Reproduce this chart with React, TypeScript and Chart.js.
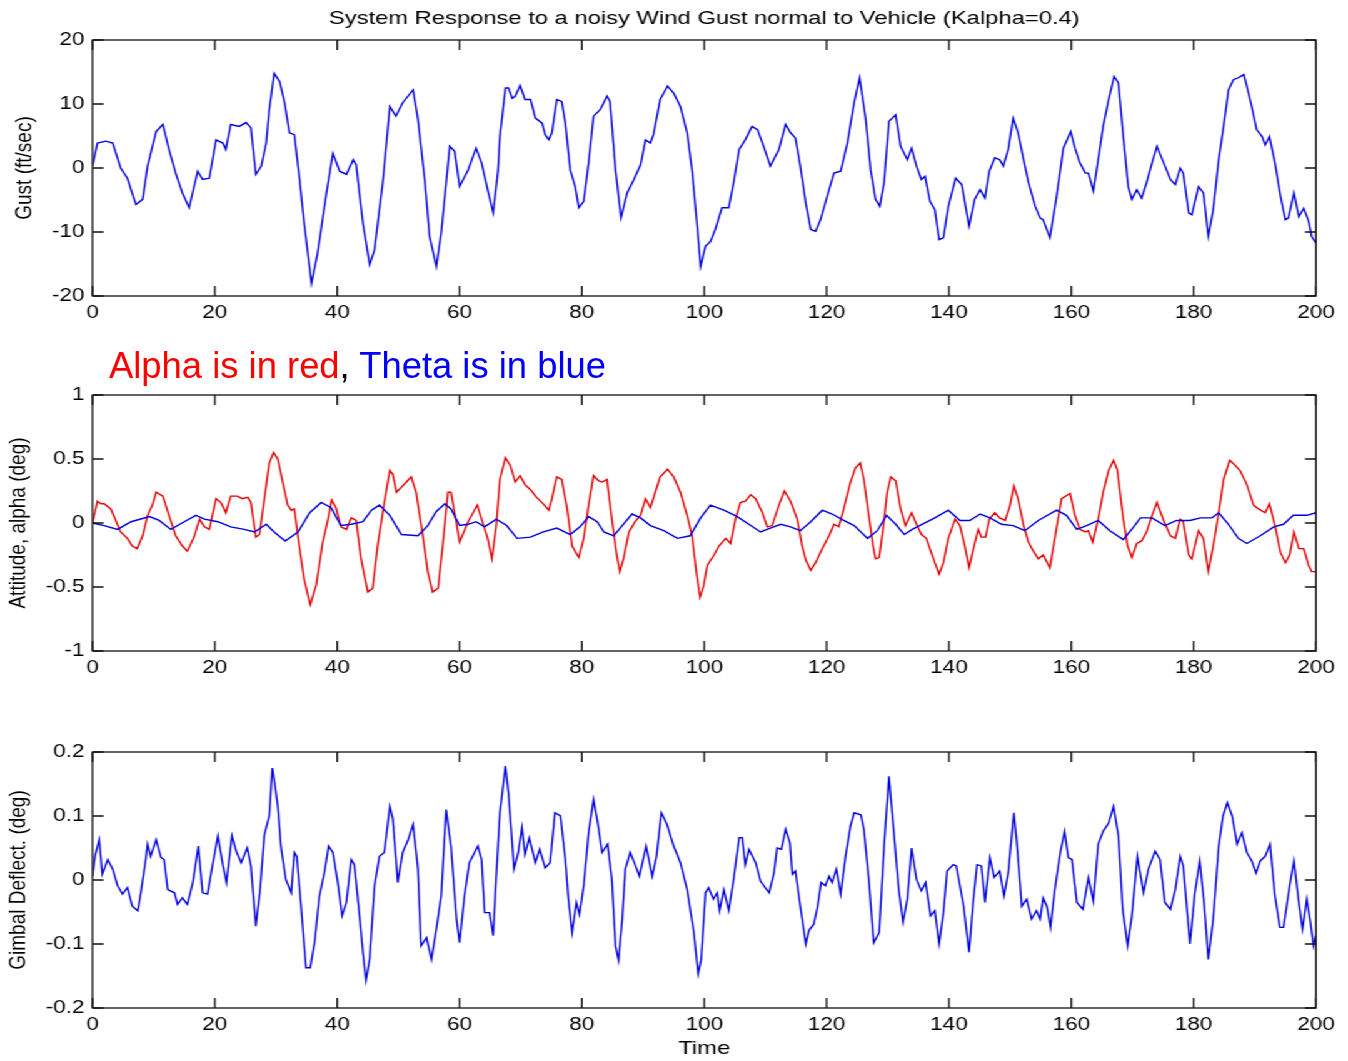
import React, { useEffect, useRef } from 'react';
import { Chart, registerables } from 'chart.js';

Chart.register(...registerables);

// ---------- data ----------
const TITLE = 'System Response to a noisy Wind Gust normal to Vehicle (Kalpha=0.4)';
const GUST_LABEL = 'Gust (ft/sec)';
const ATT_LABEL = 'Attitude, alpha (deg)';
const GIMBAL_LABEL = 'Gimbal Deflect. (deg)';
const TIME_LABEL = 'Time';

const TIME_TICKS = [0, 20, 40, 60, 80, 100, 120, 140, 160, 180, 200];
const TIME_TICK_LABELS = ['0', '20', '40', '60', '80', '100', '120', '140', '160', '180', '200'];
const GUST_TICKS = [-20, -10, 0, 10, 20];
const GUST_TICK_LABELS = ['-20', '-10', '0', '10', '20'];
const ATT_TICKS = [-1, -0.5, 0, 0.5, 1];
const ATT_TICK_LABELS = ['-1', '-0.5', '0', '0.5', '1'];
const GIMBAL_TICKS = [-0.2, -0.1, 0, 0.1, 0.2];
const GIMBAL_TICK_LABELS = ['-0.2', '-0.1', '0', '0.1', '0.2'];

const gustTime = [0, 0.8, 2.2, 3.3, 4.6, 5.7, 6.3, 7.1, 8.2, 9.0, 10.4, 11.5, 12.5, 13.6, 14.7, 15.8, 17.2, 18.0, 19.1, 20.2, 21.3, 21.8, 22.6, 24.0, 25.1, 25.9, 26.7, 27.6, 28.4, 28.9, 29.7, 30.6, 31.4, 32.2, 33.0, 33.8, 34.6, 35.8, 36.8, 38.2, 39.3, 40.4, 41.5, 42.6, 43.1, 44.2, 45.3, 46.1, 47.5, 48.6, 49.6, 50.7, 52.4, 53.2, 54.3, 55.1, 56.2, 57.0, 58.4, 59.2, 60.0, 61.4, 62.7, 63.6, 64.6, 65.5, 66.3,
  66.6, 67.5, 68.0, 68.6, 69.1, 69.9, 70.7, 71.6, 72.4, 73.5, 74.0, 74.6, 75.1, 75.9, 76.7, 77.3, 78.1, 78.9, 79.5, 80.3, 81.1, 81.9, 83.0, 84.1, 84.6, 85.5, 86.4, 87.4, 88.5, 89.6, 90.4, 91.2, 91.7, 92.8, 94.0, 95.0, 96.1, 97.2, 98.0, 98.8, 99.4, 100.2, 101.0, 101.8, 102.9, 104.0, 104.8, 105.7, 106.7, 107.8, 108.7, 109.7, 110.8, 112.2, 113.3, 114.1, 114.9, 115.7, 116.6, 117.4, 118.2, 119.0, 120.1, 121.2, 122.3, 123.4, 124.5, 125.4, 126.4, 127.2, 128.0, 128.7, 129.4, 130.2, 131.3, 132.1,
  133.2, 133.9, 134.7, 135.5, 136.1, 136.9, 137.7, 138.4, 139.1, 139.9, 141.1, 142.1, 143.3, 144.2, 145.1, 145.9, 146.6, 147.5, 148.3, 148.9, 149.7, 150.5, 151.3, 152.2, 153.0, 154.1, 154.9, 155.4, 156.5, 157.6, 158.7, 159.9, 160.6, 161.4, 162.3, 162.8, 163.6, 164.4, 165.2, 166.1, 167.0, 167.7, 168.5, 169.3, 169.9, 170.7, 171.5, 172.3, 173.2, 174.0, 175.1, 176.2, 177.0, 177.8, 178.3, 179.2, 179.7, 180.8, 181.6, 182.4, 183.2, 184.1, 184.9, 185.7, 186.5, 187.3, 188.2, 188.7, 189.5, 190.3, 191.2, 191.7, 192.4, 193.3, 194.2, 195.0, 195.5, 196.4, 197.2, 198.0, 198.8, 199.3, 200];
const gustValue = [0.3, 3.9, 4.2, 3.9, 0, -1.6, -3.4, -5.7, -4.9, 0.3, 5.7, 6.8, 2.9, -0.8, -3.9, -6.2, -0.5, -1.8, -1.6, 4.4, 3.9, 2.9, 6.8, 6.5, 7.1, 6.3, -1.0, 0.3, 3.9, 9.1, 14.8, 13.5, 10.2, 5.5, 5.2, -1.3, -8.6, -18.0, -13.3, -4.2, 2.3, -0.5, -1.0, 1.3, 0.5, -8.6, -15.1, -12.8, -1.8, 9.6, 8.1, 10.2, 12.2, 7.6, -1.8, -10.7, -15.4, -10.2, 3.4, 2.6, -2.9, -0.3, 3.1, 0.8, -3.4, -7.0, -0.3,
  4.9, 12.5, 12.5, 10.9, 11.2, 12.9, 10.7, 10.7, 7.8, 7.0, 5.2, 4.4, 5.5, 10.7, 10.4, 7.0, -0.3, -2.9, -6.2, -5.2, 0.8, 8.1, 9.1, 11.2, 10.4, -0.3, -7.8, -3.9, -1.8, 0.5, 4.4, 3.9, 5.2, 10.7, 12.8, 11.7, 9.6, 5.5, -0.3, -8.6, -15.4, -12.2, -11.5, -9.6, -6.2, -6.2, -2.3, 2.9, 4.4, 6.5, 6.0, 3.4, 0.3, 2.9, 6.8, 5.5, 4.7, 0.3, -5.5, -9.6, -9.9, -8.1, -4.4, -0.8, -0.5, 3.9, 10.2, 14.1, 7.6, -0.3, -4.9, -6.0, -2.3, 7.3, 8.3, 3.4,
  1.3, 3.1, 0.3, -1.8, -1.3, -5.2, -6.5, -11.2, -10.9, -6.0, -1.6, -2.6, -9.1, -4.9, -3.4, -4.7, -0.5, 1.6, 1.3, 0.3, 2.9, 7.8, 5.5, 1.3, -2.3, -6.0, -7.8, -8.1, -10.9, -4.4, 3.1, 5.7, 3.1, 0.8, -0.8, -0.8, -3.6, 1.3, 6.5, 10.7, 14.3, 13.3, 4.9, -2.9, -4.9, -3.4, -4.7, -2.3, 0.8, 3.4, 0.8, -1.8, -2.6, 0, -0.8, -7.0, -7.3, -2.9, -3.9, -10.7, -6.5, 1.3, 6.5, 12.2, 13.8, 14.1, 14.6, 12.8, 9.6, 6.0, 4.9, 3.6, 4.9, 0.8, -4.4, -8.1, -7.8, -3.9, -7.6, -6.3, -8.3, -10.7, -11.7];

const alphaTime = [0, 0.8, 1.4, 1.9, 3.0, 3.8, 4.6, 5.7, 6.5, 7.3, 8.2, 9.0, 9.8, 10.4, 11.5, 12.5, 13.6, 14.7, 15.5, 16.6, 17.5, 18.3, 19.1, 20.2, 21.0, 21.8, 22.6, 23.7, 24.5, 25.4, 25.9, 26.7, 27.3, 28.1, 28.9, 29.6, 30.3, 31.1, 31.9, 32.5, 33.0, 33.8, 34.6, 35.6, 36.6, 37.6, 38.5, 39.1, 39.8, 40.6, 41.5, 42.3, 43.1, 43.9, 45.0, 45.8, 46.6, 47.7, 48.6, 49.1, 49.7, 50.5, 51.3, 52.1, 52.9, 54.0, 54.8, 55.6, 56.5, 57.3, 58.1, 58.6, 59.2, 60.0, 61.4, 62.9, 63.6, 64.6, 65.3, 66.0,
  66.6, 67.5, 68.3, 69.1, 69.9, 70.7, 71.6, 72.6, 73.7, 74.6, 75.1, 75.9, 76.7, 77.6, 78.4, 79.5, 80.3, 81.1, 81.9, 82.7, 83.3, 84.1, 84.9, 85.7, 86.2, 86.8, 87.7, 88.7, 89.6, 90.4, 91.2, 92.0, 92.8, 94.0, 95.0, 96.1, 97.2, 98.0, 98.7, 99.3, 99.9, 100.5, 101.6, 102.4, 103.5, 104.3, 105.1, 105.9, 106.7, 107.6, 108.4, 109.5, 110.3, 111.1, 112.2, 113.1, 114.1, 115.2, 116.0, 116.6, 117.4, 118.2, 119.3, 120.4, 121.2, 122.0, 122.8, 123.9, 124.7, 125.5, 126.1, 126.9, 127.6, 128.0, 128.6, 129.3, 129.9, 130.5, 131.3, 132.1, 132.9,
  133.9, 134.7, 135.5, 136.3, 137.1, 137.7, 138.4, 139.1, 139.9, 141.0, 141.8, 142.6, 143.3, 144.0, 144.8, 145.3, 146.0, 146.6, 147.5, 148.3, 149.2, 150.0, 150.6, 151.3, 152.2, 153.0, 153.8, 154.6, 155.4, 156.5, 157.3, 158.4, 159.8, 160.6, 161.4, 162.3, 162.8, 163.5, 164.4, 165.2, 166.1, 166.9, 167.5, 168.5, 169.2, 169.9, 170.7, 171.5, 172.3, 173.2, 174.0, 175.1, 176.2, 177.0, 177.8, 178.3, 179.2, 179.7, 180.8, 181.6, 182.4, 183.2, 184.1, 184.9, 185.9, 186.8, 187.6, 188.7, 189.8, 190.6, 191.7, 192.4, 193.3, 194.2, 195.0, 195.7, 196.4, 197.2, 198.0, 198.8, 199.3, 200];
const alphaValue = [0, 0.17, 0.15, 0.15, 0.11, 0.02, -0.07, -0.12, -0.18, -0.20, -0.10, 0.06, 0.14, 0.24, 0.21, 0.06, -0.10, -0.18, -0.22, -0.11, 0.03, -0.03, -0.05, 0.19, 0.16, 0.08, 0.21, 0.21, 0.19, 0.20, 0.16, -0.11, -0.09, 0.19, 0.47, 0.55, 0.50, 0.32, 0.14, 0.10, 0.11, -0.18, -0.44, -0.64, -0.48, -0.16, 0.03, 0.18, 0.12, -0.03, -0.05, 0.04, 0.02, -0.28, -0.54, -0.51, -0.18, 0.16, 0.41, 0.38, 0.24, 0.28, 0.32, 0.36, 0.24, -0.10, -0.38, -0.54, -0.51, -0.15, 0.24, 0.24, 0.08, -0.15, 0.01, 0.14, 0.03, -0.12, -0.28, -0.02,
  0.34, 0.51, 0.45, 0.32, 0.37, 0.30, 0.26, 0.20, 0.15, 0.10, 0.19, 0.36, 0.34, 0.11, -0.18, -0.27, -0.12, 0.14, 0.37, 0.33, 0.32, 0.34, 0.03, -0.25, -0.38, -0.28, -0.07, 0.01, 0.06, 0.19, 0.12, 0.24, 0.36, 0.42, 0.36, 0.24, 0.06, -0.10, -0.38, -0.58, -0.49, -0.33, -0.25, -0.18, -0.12, -0.16, 0.03, 0.16, 0.17, 0.22, 0.19, 0.08, -0.03, -0.02, 0.14, 0.25, 0.17, 0.03, -0.18, -0.29, -0.37, -0.31, -0.20, -0.10, -0.01, -0.03, 0.11, 0.32, 0.43, 0.47, 0.34, 0.06, -0.18, -0.28, -0.27, -0.02, 0.24, 0.36, 0.33, 0.11, -0.02,
  0.08, -0.01, -0.09, -0.12, -0.23, -0.31, -0.40, -0.31, -0.12, 0.03, -0.02, -0.18, -0.35, -0.20, -0.05, -0.11, -0.11, 0.03, 0.08, 0.04, 0.02, 0.14, 0.29, 0.19, -0.02, -0.15, -0.22, -0.28, -0.25, -0.35, -0.12, 0.19, 0.23, 0.06, -0.05, -0.07, -0.06, -0.15, 0.03, 0.24, 0.41, 0.49, 0.42, 0.03, -0.18, -0.27, -0.16, -0.14, -0.07, 0.06, 0.16, 0.02, -0.10, -0.12, 0.03, 0.01, -0.25, -0.28, -0.06, -0.12, -0.38, -0.18, 0.08, 0.34, 0.49, 0.45, 0.41, 0.30, 0.14, 0.11, 0.08, 0.15, -0.02, -0.23, -0.31, -0.25, -0.07, -0.20, -0.20, -0.33, -0.38, -0.38];

const thetaTime = [0, 1.9, 4.1, 6.3, 9.3, 10.9, 12.8, 15.0, 16.9, 18.3, 20.5, 22.6, 24.8, 26.5, 28.4, 29.7, 31.5, 33.6, 35.5, 37.4, 39.0, 40.6, 42.3, 44.2, 45.6, 46.9, 48.6, 50.5, 53.2, 54.8, 56.2, 57.6, 58.6, 60.0, 61.4, 62.7, 64.1, 66.0, 67.7, 69.4, 71.6, 73.7, 75.9, 78.1, 79.7, 81.1, 82.5, 83.6, 85.2, 86.6, 88.2, 89.6, 91.2, 93.4, 95.6, 97.7, 99.4, 101.0, 103.2, 105.4, 107.6, 109.2, 110.8, 112.5, 114.1, 115.7, 117.4, 119.3, 120.9, 122.8, 124.5, 126.7, 128.3, 129.8, 131.3, 132.7, 134.0, 135.2, 137.7, 139.9, 141.8, 143.4, 145.1, 146.7, 148.6, 150.5, 152.4, 154.6, 157.6, 159.2, 160.9, 162.5, 164.4, 166.3, 168.5, 170.2, 171.3, 173.2, 175.3, 177.2, 179.4, 181.1, 183.0, 184.1, 185.7, 187.3, 188.7, 190.9, 193.1, 194.7, 196.3, 198.5, 200];
const thetaValue = [0, -0.02, -0.05, 0.01, 0.05, 0.02, -0.05, 0.01, 0.06, 0.03, 0.01, -0.03, -0.05, -0.07, -0.01, -0.07, -0.14, -0.07, 0.08, 0.16, 0.12, -0.02, -0.01, 0.01, 0.10, 0.14, 0.06, -0.09, -0.10, -0.02, 0.09, 0.15, 0.11, -0.02, -0.01, 0.01, -0.03, 0.03, -0.02, -0.12, -0.11, -0.07, -0.04, -0.09, -0.03, 0.05, 0.01, -0.07, -0.10, -0.02, 0.07, 0.04, -0.02, -0.06, -0.12, -0.10, 0.04, 0.14, 0.10, 0.05, -0.02, -0.07, -0.04, -0.01, -0.03, -0.06, 0.01, 0.10, 0.07, 0.02, -0.02, -0.12, -0.06, 0.06, -0.01, -0.09, -0.05, -0.02, 0.04, 0.10, 0.02, 0.02, 0.07, 0.04, -0.01, -0.02, -0.06, 0.02, 0.10, 0.06, -0.05, -0.02, 0.02, -0.06, -0.13, -0.03, 0.04, 0.04, -0.02, 0.02, 0.02, 0.04, 0.04, 0.08, -0.01, -0.12, -0.16, -0.10, -0.03, -0.01, 0.06, 0.06, 0.08];

const gimbalTime = [0, 0.4, 1.1, 1.6, 2.5, 3.3, 4.1, 4.9, 5.7, 6.5, 7.4, 7.9, 8.7, 9.0, 9.5, 10.4, 11.2, 11.7, 12.3, 13.4, 13.9, 14.7, 15.5, 16.4, 17.3, 18.0, 18.8, 19.6, 20.5, 21.3, 21.9, 22.8, 23.5, 24.3, 25.3, 25.9, 26.7, 27.4, 28.1, 28.9, 29.4, 29.7, 30.3, 30.8, 31.6, 32.5, 33.0, 33.4, 34.1, 34.9, 35.6, 36.3, 37.1, 37.9, 38.6, 39.3, 40.1, 40.8, 41.5, 42.3, 42.8, 43.6, 44.2, 44.7, 45.3, 46.1, 46.9, 47.7, 48.6, 49.1, 49.9, 50.7, 51.6, 52.4, 53.2, 53.7, 54.6, 55.4, 56.2, 57.0, 57.8, 58.6, 59.5, 60.0, 60.8, 61.6, 63.0, 63.6, 64.1, 64.9, 65.5, 66.0,
  66.6, 67.5, 68.0, 68.6, 68.9, 69.6, 70.2, 70.7, 71.4, 72.4, 73.1, 74.0, 74.8, 75.6, 76.5, 77.3, 77.8, 78.4, 79.1, 79.6, 80.3, 81.1, 81.9, 82.6, 83.3, 84.2, 84.9, 85.5, 86.0, 86.6, 87.1, 87.9, 88.7, 89.4, 90.5, 91.5, 92.2, 93.0, 93.9, 95.0, 96.1, 97.2, 98.3, 99.0, 99.5, 100.2, 100.7, 101.5, 102.1, 102.5, 103.2, 104.0, 104.8, 105.7, 106.2, 106.7, 107.3, 108.4, 109.2, 110.6, 111.4, 111.9, 112.6, 113.3, 114.0, 114.4, 114.9, 115.7, 116.6, 117.1, 117.9, 118.5, 119.1, 119.8, 120.4, 120.9, 121.6, 122.3, 123.1, 123.9, 124.5, 125.6, 126.1, 126.9, 127.7, 128.6, 129.4, 130.2, 131.0, 131.8, 132.5, 133.2,
  133.9, 134.7, 135.5, 136.2, 137.0, 137.7, 138.4, 139.1, 139.7, 140.7, 141.2, 141.8, 142.4, 143.3, 144.0, 144.6, 145.3, 145.9, 146.7, 147.4, 148.3, 149.0, 149.7, 150.6, 151.1, 151.9, 152.7, 153.5, 154.3, 154.9, 155.4, 156.0, 156.6, 157.3, 158.2, 158.9, 159.5, 160.1, 160.9, 161.9, 162.8, 163.6, 164.4, 165.2, 166.1, 166.9, 167.7, 168.4, 169.2, 169.9, 170.8, 171.8, 172.6, 173.7, 174.5, 175.3, 176.2, 177.0, 177.8, 178.3, 179.4, 180.2, 181.0, 181.7, 182.4, 183.2, 184.1, 184.8, 185.5, 186.3, 187.1, 187.9, 188.7, 189.5, 190.2, 190.9, 191.7, 192.5, 193.3, 194.1, 194.7, 195.7, 196.4, 197.2, 197.8, 198.5, 199.1, 199.6, 200];
const gimbalValue = [0.006, 0.037, 0.063, 0.009, 0.032, 0.017, -0.009, -0.022, -0.012, -0.041, -0.048, -0.020, 0.032, 0.056, 0.037, 0.063, 0.035, 0.032, -0.015, -0.020, -0.038, -0.028, -0.038, -0.004, 0.053, -0.020, -0.022, 0.022, 0.069, 0.024, -0.004, 0.069, 0.045, 0.027, 0.050, 0.022, -0.072, -0.015, 0.071, 0.100, 0.175, 0.157, 0.115, 0.053, 0.001, -0.020, 0.043, 0.037, -0.041, -0.137, -0.137, -0.098, -0.025, 0.011, 0.053, 0.043, -0.004, -0.056, -0.035, 0.032, 0.024, -0.051, -0.113, -0.157, -0.124, -0.009, 0.037, 0.043, 0.115, 0.095, -0.004, 0.043, 0.063, 0.087, 0.017, -0.103, -0.090, -0.124, -0.077, -0.025, 0.110, 0.053, -0.061, -0.098, -0.025, 0.027, 0.053, 0.032, -0.051, -0.051, -0.087, 0.006,
  0.105, 0.178, 0.136, 0.058, 0.017, 0.043, 0.082, 0.040, 0.066, 0.027, 0.048, 0.019, 0.027, 0.105, 0.100, 0.032, -0.030, -0.082, -0.035, -0.054, -0.009, 0.074, 0.126, 0.089, 0.043, 0.056, 0.001, -0.103, -0.126, -0.061, 0.017, 0.043, 0.024, 0.006, 0.053, 0.006, 0.037, 0.105, 0.087, 0.053, 0.027, -0.015, -0.082, -0.147, -0.124, -0.020, -0.012, -0.030, -0.020, -0.048, -0.015, -0.048, 0.001, 0.066, 0.066, 0.024, 0.048, 0.027, -0.002, -0.020, 0.011, 0.050, 0.048, 0.079, 0.058, 0.009, 0.014, -0.041, -0.100, -0.079, -0.069, -0.043, -0.004, -0.009, 0.006, -0.004, 0.017, -0.022, 0.037, 0.084, 0.105, 0.102, 0.079, 0.001, -0.098, -0.082, 0.053, 0.162, 0.074, -0.015, -0.066, -0.030,
  0.050, 0.001, -0.017, -0.004, -0.056, -0.048, -0.100, -0.051, 0.014, 0.024, 0.022, -0.009, -0.041, -0.113, -0.030, 0.024, 0.022, -0.035, 0.035, 0.004, 0.014, -0.025, 0.011, 0.105, 0.058, -0.041, -0.030, -0.061, -0.048, -0.061, -0.028, -0.041, -0.074, -0.015, 0.043, 0.076, 0.035, 0.032, -0.035, -0.046, 0.004, -0.033, 0.056, 0.076, 0.089, 0.115, 0.069, -0.046, -0.103, -0.056, 0.037, -0.020, 0.017, 0.045, 0.032, -0.035, -0.046, -0.015, 0.037, 0.022, -0.100, -0.020, 0.030, -0.035, -0.124, -0.061, 0.053, 0.100, 0.121, 0.100, 0.056, 0.074, 0.043, 0.030, 0.011, 0.030, 0.037, 0.056, -0.025, -0.074, -0.074, -0.009, 0.030, -0.035, -0.077, -0.030, -0.066, -0.103, -0.087];

// ---------- layout ----------
const PAGE_W = 1348;
const PAGE_H = 1061;
const BASE_W = 1078; // drawing width before the horizontal stretch
const STRETCH = PAGE_W / BASE_W;
const PLOT_LEFT = 92.5 / STRETCH;
const PLOT_RIGHT = 1316 / STRETCH;
const FONT_FAMILY = '"Liberation Sans", Arial, Helvetica, sans-serif';

const zip = (ts: number[], vs: number[]) => ts.map((t, i) => ({ x: t, y: vs[i] }));

const boxPlugin = {
  id: 'matlabBox',
  afterDraw(chart: any) {
    const { ctx, chartArea: a, scales } = chart;
    ctx.save();
    ctx.strokeStyle = '#111';
    ctx.lineWidth = 1.3;
    ctx.strokeRect(a.left, a.top, a.right - a.left, a.bottom - a.top);
    ctx.beginPath();
    scales.x.ticks.forEach((t: any) => {
      const px = scales.x.getPixelForValue(t.value);
      ctx.moveTo(px, a.bottom);
      ctx.lineTo(px, a.bottom - 10);
      ctx.moveTo(px, a.top);
      ctx.lineTo(px, a.top + 10);
    });
    scales.y.ticks.forEach((t: any) => {
      const py = scales.y.getPixelForValue(t.value);
      ctx.moveTo(a.left, py);
      ctx.lineTo(a.left + 8.8, py);
      ctx.moveTo(a.right, py);
      ctx.lineTo(a.right - 8.8, py);
    });
    ctx.stroke();
    ctx.restore();
  },
};

const titlePlugin = {
  id: 'figTitle',
  afterDraw(chart: any) {
    const text = chart.options.plugins.figTitle?.text;
    if (!text) return;
    const { ctx, chartArea: a } = chart;
    ctx.save();
    ctx.fillStyle = '#000';
    ctx.font = `19px ${FONT_FAMILY}`;
    ctx.textAlign = 'center';
    ctx.textBaseline = 'middle';
    ctx.fillText(text, (a.left + a.right) / 2, 19);
    ctx.restore();
  },
};

type PanelSpec = {
  top: number;
  height: number;
  padTop: number;
  xHeight: number;
  datasets: any[];
  yMin: number;
  yMax: number;
  yTicks: number[];
  yTickLabels: string[];
  yTitle: string;
  yTitlePad: number;
  xTitle?: string;
  title?: string;
};

function Panel({ spec }: { spec: PanelSpec }) {
  const ref = useRef<HTMLCanvasElement | null>(null);
  useEffect(() => {
    if (!ref.current) return;
    const tickFont = { family: FONT_FAMILY, size: 18 };
    const labelFont = { family: FONT_FAMILY, size: 19 };
    const chart = new Chart(ref.current, {
      type: 'line',
      data: { datasets: spec.datasets },
      options: {
        responsive: false,
        animation: false,
        events: [],
        layout: { padding: { top: spec.padTop, right: BASE_W - PLOT_RIGHT, bottom: 0, left: 0 } },
        plugins: {
          legend: { display: false },
          tooltip: { enabled: false },
          figTitle: { text: spec.title },
        } as any,
        scales: {
          x: {
            type: 'linear',
            min: 0,
            max: 200,
            afterBuildTicks: (s: any) => {
              s.ticks = TIME_TICKS.map((v) => ({ value: v }));
            },
            afterFit: (s: any) => {
              s.height = spec.xHeight;
            },
            ticks: {
              font: tickFont,
              color: '#000',
              padding: 6,
              maxRotation: 0,
              autoSkip: false,
              callback: (v: any) => TIME_TICK_LABELS[TIME_TICKS.indexOf(Number(v))],
            },
            grid: { display: false, drawTicks: false },
            border: { display: false },
            title: {
              display: !!spec.xTitle,
              text: spec.xTitle || '',
              font: labelFont,
              color: '#000',
              padding: { top: 0, bottom: 0.6 },
            },
          },
          y: {
            type: 'linear',
            min: spec.yMin,
            max: spec.yMax,
            afterBuildTicks: (s: any) => {
              s.ticks = spec.yTicks.map((v) => ({ value: v }));
            },
            afterFit: (s: any) => {
              s.width = PLOT_LEFT;
            },
            ticks: {
              font: tickFont,
              color: '#000',
              padding: 6.4,
              autoSkip: false,
              callback: (v: any) => spec.yTickLabels[spec.yTicks.findIndex((t) => Math.abs(t - Number(v)) < 1e-9)],
            },
            grid: { display: false, drawTicks: false },
            border: { display: false },
            title: {
              display: true,
              text: spec.yTitle,
              font: labelFont,
              color: '#000',
              padding: { top: spec.yTitlePad, bottom: 0 },
            },
          },
        },
      } as any,
      plugins: [boxPlugin, titlePlugin],
    });
    return () => chart.destroy();
  }, []);
  return (
    <canvas
      ref={ref}
      width={BASE_W}
      height={spec.height}
      style={{ position: 'absolute', left: 0, top: spec.top, display: 'block' }}
    />
  );
}

const lineStyle = (color: string) => ({
  borderColor: color,
  backgroundColor: color,
  borderWidth: 1.4,
  pointRadius: 0,
  tension: 0,
  fill: false,
});

const panels: PanelSpec[] = [
  {
    top: 0,
    height: 336,
    padTop: 40,
    xHeight: 40,
    datasets: [{ label: 'Gust', data: zip(gustTime, gustValue), ...lineStyle('#0000dd') }],
    yMin: -20,
    yMax: 20,
    yTicks: GUST_TICKS,
    yTickLabels: GUST_TICK_LABELS,
    yTitle: GUST_LABEL,
    yTitlePad: 8.6,
    title: TITLE,
  },
  {
    top: 336,
    height: 354,
    padTop: 59,
    xHeight: 39,
    datasets: [
      { label: 'Theta', data: zip(thetaTime, thetaValue), ...lineStyle('#0000dd'), order: 1 },
      { label: 'Alpha', data: zip(alphaTime, alphaValue), ...lineStyle('#e00000'), order: 2 },
    ],
    yMin: -1,
    yMax: 1,
    yTicks: ATT_TICKS,
    yTickLabels: ATT_TICK_LABELS,
    yTitle: ATT_LABEL,
    yTitlePad: 3.8,
  },
  {
    top: 690,
    height: 371,
    padTop: 62,
    xHeight: 53,
    datasets: [{ label: 'Gimbal', data: zip(gimbalTime, gimbalValue), ...lineStyle('#0000dd') }],
    yMin: -0.2,
    yMax: 0.2,
    yTicks: GIMBAL_TICKS,
    yTickLabels: GIMBAL_TICK_LABELS,
    yTitle: GIMBAL_LABEL,
    yTitlePad: 3.8,
    xTitle: TIME_LABEL,
  },
];

export default function App() {
  return (
    <div
      style={{
        position: 'absolute',
        left: 0,
        top: 0,
        width: PAGE_W,
        height: PAGE_H,
        background: '#fff',
        overflow: 'hidden',
      }}
    >
      <div
        style={{
          position: 'absolute',
          left: 0,
          top: 0,
          width: BASE_W,
          height: PAGE_H,
          transform: `scaleX(${STRETCH})`,
          transformOrigin: '0 0',
        }}
      >
        {panels.map((p, i) => (
          <Panel key={i} spec={p} />
        ))}
      </div>
      <div
        style={{
          position: 'absolute',
          left: 109,
          top: 348,
          fontFamily: FONT_FAMILY,
          fontSize: 36.4,
          lineHeight: '36px',
          whiteSpace: 'nowrap',
          color: '#000',
        }}
      >
        <span style={{ color: '#ff0000' }}>Alpha is in red</span>
        <span>, </span>
        <span style={{ color: '#0000ff' }}>Theta is in blue</span>
      </div>
    </div>
  );
}
